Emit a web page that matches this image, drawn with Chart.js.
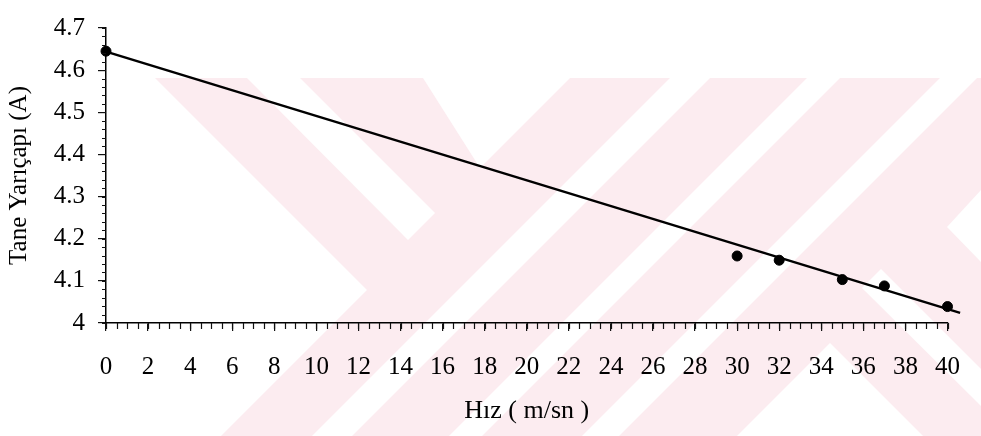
<!DOCTYPE html>
<html>
<head>
<meta charset="utf-8">
<script src="https://cdn.jsdelivr.net/npm/chart.js@4.4.1/dist/chart.umd.min.js"></script>
<style>
  html, body { margin: 0; padding: 0; background: #fff; }
  #wrap { width: 981px; height: 436px; position: relative; }
</style>
</head>
<body>
<div id="wrap"><canvas id="chart"></canvas></div>
<script>
// measured points
var speeds = [0, 30, 32, 35, 37, 40];
var radii = [4.645, 4.159, 4.149, 4.103, 4.088, 4.039];

// trend line end points
var fitX = [0, 40.6];
var fitY = [4.644, 4.024];

// axis ranges / steps
var xRange = [0, 40];
var yRange = [4, 4.7];
var xMajor = 2, xMinor = 0.5;
var yMajor = 0.1, yMinor = 0.02;

var FONT = "'Liberation Serif', 'Times New Roman', serif";
var PINK = '#fcecf0';

// background watermark (decoration only)
var pinkArea = [[155,78],[981,78],[981,436],[221,436],[367,290]];
var whiteCuts = [
    [[247,78],[300,78],[435,213],[408,240]],
    [[423,78],[570,78],[480,168]],
    [[670,78],[710,78],[352,436],[312,436]],
    [[807,78],[840,78],[482,436],[449,436]],
    [[940,78],[977,78],[619,436],[582,436]],
    [[881,269],[981,369],[981,406],[862,288]],
    [[830,343],[923,436],[737,436]],
    [[981,190],[947,227],[981,262]]
];

function poly(ctx, pts, color) {
    ctx.beginPath();
    ctx.moveTo(pts[0][0], pts[0][1]);
    for (var i = 1; i < pts.length; i++) ctx.lineTo(pts[i][0], pts[i][1]);
    ctx.closePath();
    ctx.fillStyle = color;
    ctx.fill();
}

var watermark = {
    id: 'watermark',
    beforeDraw: function (chart) {
        var ctx = chart.ctx;
        ctx.save();
        ctx.fillStyle = '#fff';
        ctx.fillRect(0, 0, chart.width, chart.height);
        poly(ctx, pinkArea, PINK);
        whiteCuts.forEach(function (p) { poly(ctx, p, '#fff'); });
        ctx.restore();
    }
};

// small ticks between the labelled ones
var minorTicks = {
    id: 'minorTicks',
    afterDraw: function (chart) {
        var ctx = chart.ctx, xs = chart.scales.x, ys = chart.scales.y;
        ctx.save();
        ctx.strokeStyle = '#111';
        ctx.lineWidth = 1.2;
        ctx.beginPath();
        var n = Math.round((xRange[1] - xRange[0]) / xMinor);
        for (var i = 0; i <= n; i++) {
            var px = Math.round(xs.getPixelForValue(xRange[0] + i * xMinor)) + 0.5;
            ctx.moveTo(px, ys.bottom);
            ctx.lineTo(px, ys.bottom + 6);
        }
        var m = Math.round((yRange[1] - yRange[0]) / yMinor);
        for (var j = 0; j <= m; j++) {
            var py = Math.round(ys.getPixelForValue(yRange[0] + j * yMinor)) + 0.5;
            ctx.moveTo(xs.left, py);
            ctx.lineTo(xs.left - 4, py);
        }
        ctx.stroke();
        ctx.restore();
    }
};

var ctx = document.getElementById('chart').getContext('2d');
var chart = new Chart(ctx, {
    type: 'scatter',
    data: {
        datasets: [{
            data: speeds.map(function (s, i) { return { x: s, y: radii[i] }; }),
            backgroundColor: '#000',
            borderColor: '#000',
            pointRadius: 5,
            clip: false
        }, {
            data: fitX.map(function (s, i) { return { x: s, y: fitY[i] }; }),
            showLine: true,
            borderColor: '#000',
            borderWidth: 2.5,
            pointRadius: 0,
            clip: false
        }]
    },
    options: {
        responsive: true,
        maintainAspectRatio: false,
        animation: false,
        layout: { padding: { top: 16, right: 15, left: 0, bottom: 0 } },
        plugins: {
            legend: { display: false },
            tooltip: { enabled: false }
        },
        scales: {
            x: {
                type: 'linear',
                min: xRange[0],
                max: xRange[1],
                afterFit: function (s) { s.height = 113; },
                border: { color: '#000', width: 1.5 },
                grid: { drawOnChartArea: false, color: '#111', tickLength: 8, lineWidth: 1.2 },
                ticks: {
                    stepSize: xMajor,
                    padding: 21,
                    color: '#000',
                    font: { family: FONT, size: 25 },
                    maxRotation: 0
                },
                title: {
                    display: true,
                    text: 'Hız ( m/sn )',
                    color: '#000',
                    font: { family: FONT, size: 26 },
                    padding: { top: 0, bottom: 9 }
                }
            },
            y: {
                min: yRange[0],
                max: yRange[1],
                afterFit: function (s) { s.width = 106; },
                border: { color: '#000', width: 1.5 },
                grid: { drawOnChartArea: false, color: '#111', tickLength: 8, lineWidth: 1.2 },
                ticks: {
                    stepSize: yMajor,
                    padding: 13,
                    color: '#000',
                    font: { family: FONT, size: 25 },
                    callback: function (v) { return String(Math.round(v * 10) / 10); }
                },
                title: {
                    display: true,
                    text: 'Tane Yarıçapı (A)',
                    color: '#000',
                    font: { family: FONT, size: 25 },
                    padding: { top: 4, bottom: 0 }
                }
            }
        }
    },
    plugins: [watermark, minorTicks]
});
</script>
</body>
</html>
